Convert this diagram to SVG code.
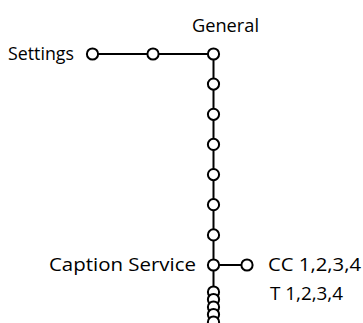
<svg xmlns="http://www.w3.org/2000/svg" width="363" height="323" viewBox="0 0 363 323">
<style>
.n{fill:#fff;stroke:#000;stroke-width:2}
.c{fill:none;stroke:#000;stroke-width:2}
text{font-family:"Open Sans","Liberation Sans",sans-serif;font-size:18px;fill:#000}
</style>
<rect width="363" height="323" fill="#fff"/>
<g id="connectors">
<path class="c" d="M92.5 54H213.5V300M213.5 265H247"/>
</g>
<g id="settings"><circle class="n" cx="92.5" cy="54" r="5.6"/><text x="8" y="59.5" textLength="66" lengthAdjust="spacingAndGlyphs">Settings</text></g>
<g id="n2"><circle class="n" cx="153" cy="54" r="5.6"/></g>
<g id="general"><circle class="n" cx="213.5" cy="54" r="5.6"/><text x="192" y="32" textLength="67" lengthAdjust="spacingAndGlyphs">General</text></g>
<g id="v1"><circle class="n" cx="213.5" cy="84.1" r="5.6"/></g>
<g id="v2"><circle class="n" cx="213.5" cy="114.3" r="5.6"/></g>
<g id="v3"><circle class="n" cx="213.5" cy="144.4" r="5.6"/></g>
<g id="v4"><circle class="n" cx="213.5" cy="174.6" r="5.6"/></g>
<g id="v5"><circle class="n" cx="213.5" cy="204.7" r="5.6"/></g>
<g id="v6"><circle class="n" cx="213.5" cy="234.9" r="5.6"/></g>
<g id="caption"><circle class="n" cx="213.5" cy="265" r="5.6"/><text x="49" y="271" textLength="147" lengthAdjust="spacingAndGlyphs">Caption Service</text></g>
<g id="cc"><circle class="n" cx="247" cy="265" r="5.6"/><text x="268" y="271" textLength="93" lengthAdjust="spacingAndGlyphs">CC 1,2,3,4</text><text x="270" y="300" textLength="73" lengthAdjust="spacingAndGlyphs">T 1,2,3,4</text></g>
<g id="stack">
<circle class="n" cx="213.5" cy="292" r="5.6"/>
<circle class="n" cx="213.5" cy="299.5" r="5.6"/>
<circle class="n" cx="213.5" cy="307" r="5.6"/>
<circle class="n" cx="213.5" cy="314.5" r="5.6"/>
<circle class="n" cx="213.5" cy="322" r="5.6"/>
</g>
</svg>
